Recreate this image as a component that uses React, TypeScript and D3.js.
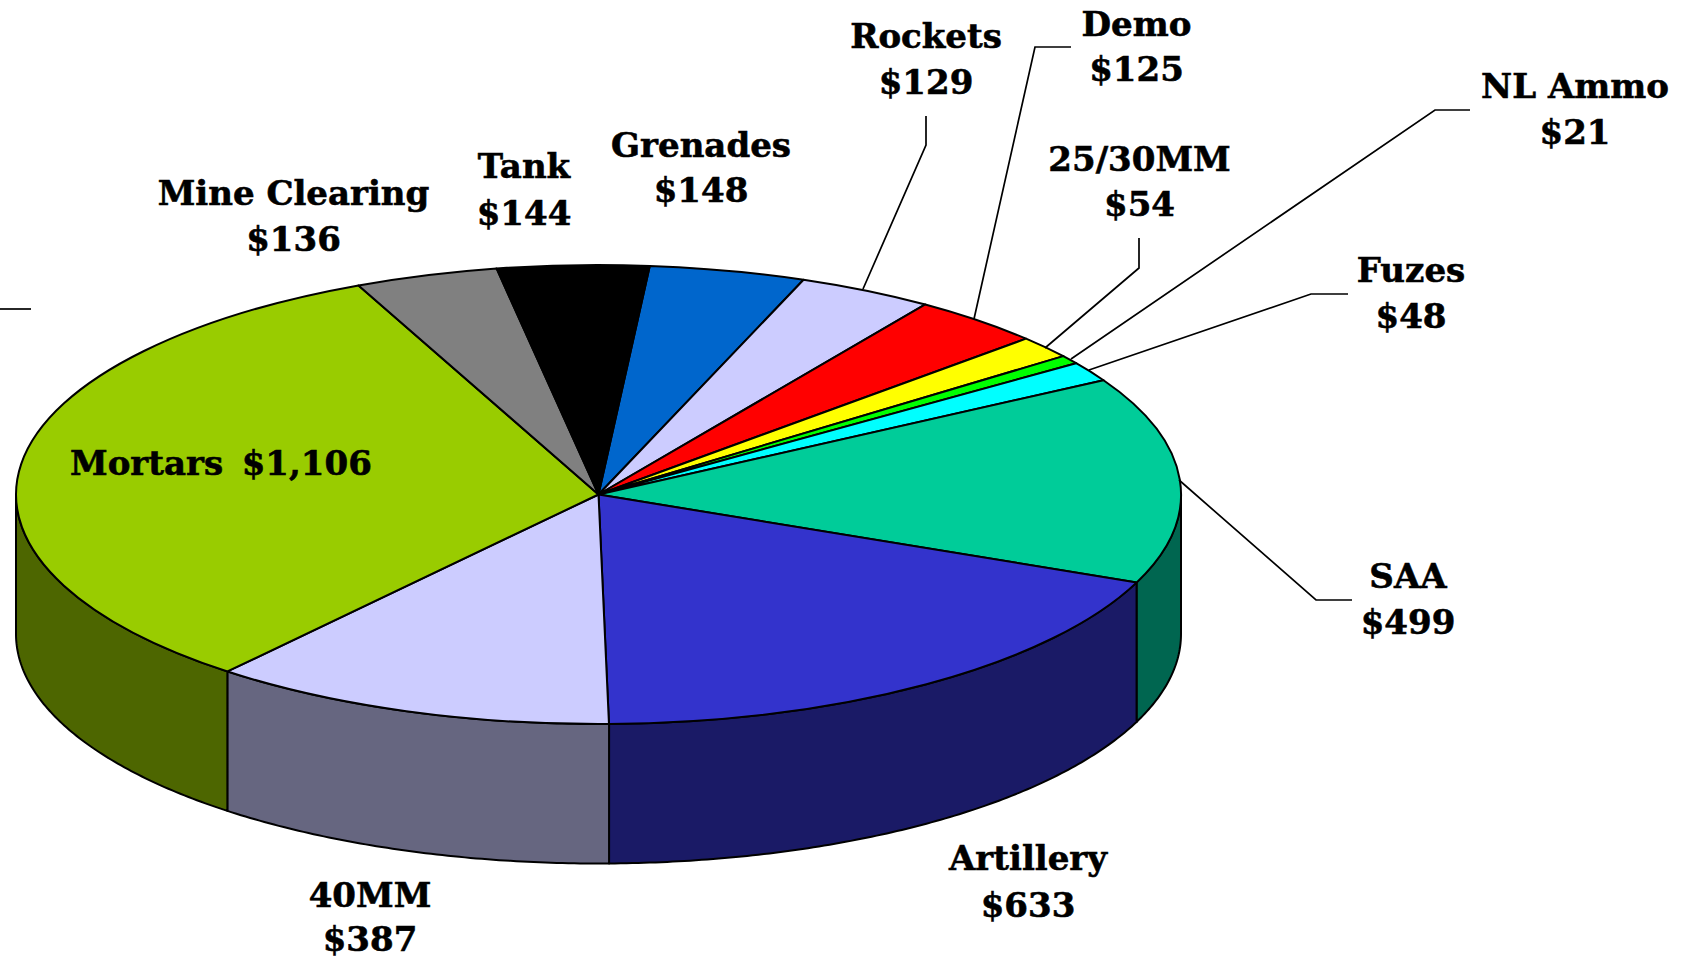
import React from "react";
import * as d3 from "d3";

const categories = ["Grenades", "Rockets", "Demo", "25/30MM", "NL Ammo", "Fuzes", "SAA", "Artillery", "40MM", "Mortars", "Mine Clearing", "Tank"];
const amounts = [148, 129, 125, 54, 21, 48, 499, 633, 387, 1106, 136, 144];
const topColors = ["#0066CC", "#CCCCFF", "#FF0000", "#FFFF00", "#00FF00", "#00FFFF", "#00CC99", "#3333CC", "#CCCCFF", "#99CC00", "#808080", "#000000"];
const sideColors = ["#003366", "#666680", "#800000", "#808000", "#008000", "#008080", "#006650", "#1A1A66", "#666680", "#4D6600", "#404040", "#000000"];

// label placement: centre x, first baseline, second baseline
const labelX = [701, 926, 1136.5, 1139.5, 1575, 1411, 1408, 1028, 370, 0, 293.5, 524];
const labelY1 = [157, 48, 36, 171, 98, 282, 588, 870, 906.5, 0, 205, 178];
const labelY2 = [202, 93.5, 80.5, 216, 143.5, 327.5, 633.5, 916.5, 950.5, 0, 250.5, 225];

const leaders: [number, number][][] = [
  [[926, 116], [926, 145], [863, 289]],
  [[1071, 47], [1035, 47], [974, 319]],
  [[1139, 238], [1139, 268], [1045, 348]],
  [[1470, 110], [1435, 110], [1071, 359]],
  [[1348, 294], [1311, 294], [1089, 370]],
  [[1352, 600], [1316, 600], [1179, 480]],
  [[0, 309], [31, 309]],
];

const CX = 598.5, CY = 494.5, RX = 582.5, RY = 229.5, DEPTH = 139.5;
const START = (5.05 * Math.PI) / 180;
const FONT = "'DejaVu Serif', serif";
const FONT_SIZE = 34;

const px = (a: number) => CX + RX * Math.sin(a);
const py = (a: number) => CY - RY * Math.cos(a);

export default function App() {
  const slices = d3
    .pie<number>()
    .sort(null)
    .startAngle(START)
    .endAngle(START + 2 * Math.PI)(amounts);
  const arc = d3.arc<d3.PieArcDatum<number>>().innerRadius(0).outerRadius(1);
  const line = d3.line();

  const walls = slices.flatMap((s, i) => {
    const a0 = Math.max(s.startAngle, Math.PI / 2);
    const a1 = Math.min(s.endAngle, (3 * Math.PI) / 2);
    if (a1 <= a0) return [];
    const n = Math.ceil((a1 - a0) / 0.01);
    const ts = d3.range(n + 1).map((k) => a0 + ((a1 - a0) * k) / n);
    const upper = ts.map((t) => [px(t), py(t)] as [number, number]);
    const lower = ts.slice().reverse().map((t) => [px(t), py(t) + DEPTH] as [number, number]);
    return [{ i, d: line([...upper, ...lower])! + "Z" }];
  });

  return (
    <svg
      width={1686}
      height={956}
      viewBox="0 0 1686 956"
      style={{ position: "fixed", left: 0, top: 0, background: "#fff" }}
    >
      {walls.map((w) => (
        <path key={w.i} d={w.d} fill={sideColors[w.i]} stroke="#000" strokeWidth={2} strokeLinejoin="round" />
      ))}
      <g transform={`translate(${CX},${CY}) scale(${RX},${RY})`}>
        {slices.map((s, i) => (
          <path
            key={i}
            d={arc(s)!}
            fill={topColors[i]}
            stroke="#000"
            strokeWidth={2}
            strokeLinejoin="round"
            vectorEffect="non-scaling-stroke"
          />
        ))}
      </g>
      {leaders.map((pts, i) => (
        <path key={i} d={line(pts)!} fill="none" stroke="#000" strokeWidth={1.7} />
      ))}
      <g fontFamily={FONT} fontWeight="bold" fontSize={FONT_SIZE} fill="#000" stroke="#000" strokeWidth={0.6} textAnchor="middle">
        {categories.map((c, i) =>
          c === "Mortars" ? null : (
            <g key={c}>
              <text x={labelX[i]} y={labelY1[i]}>{c}</text>
              <text x={labelX[i]} y={labelY2[i]}>{d3.format("$,")(amounts[i])}</text>
            </g>
          )
        )}
        <text x={70} y={475} textAnchor="start" style={{ whiteSpace: "pre", wordSpacing: "-2.5px" }}>
          {`Mortars  ${d3.format("$,")(amounts[categories.indexOf("Mortars")])}`}
        </text>
      </g>
    </svg>
  );
}
